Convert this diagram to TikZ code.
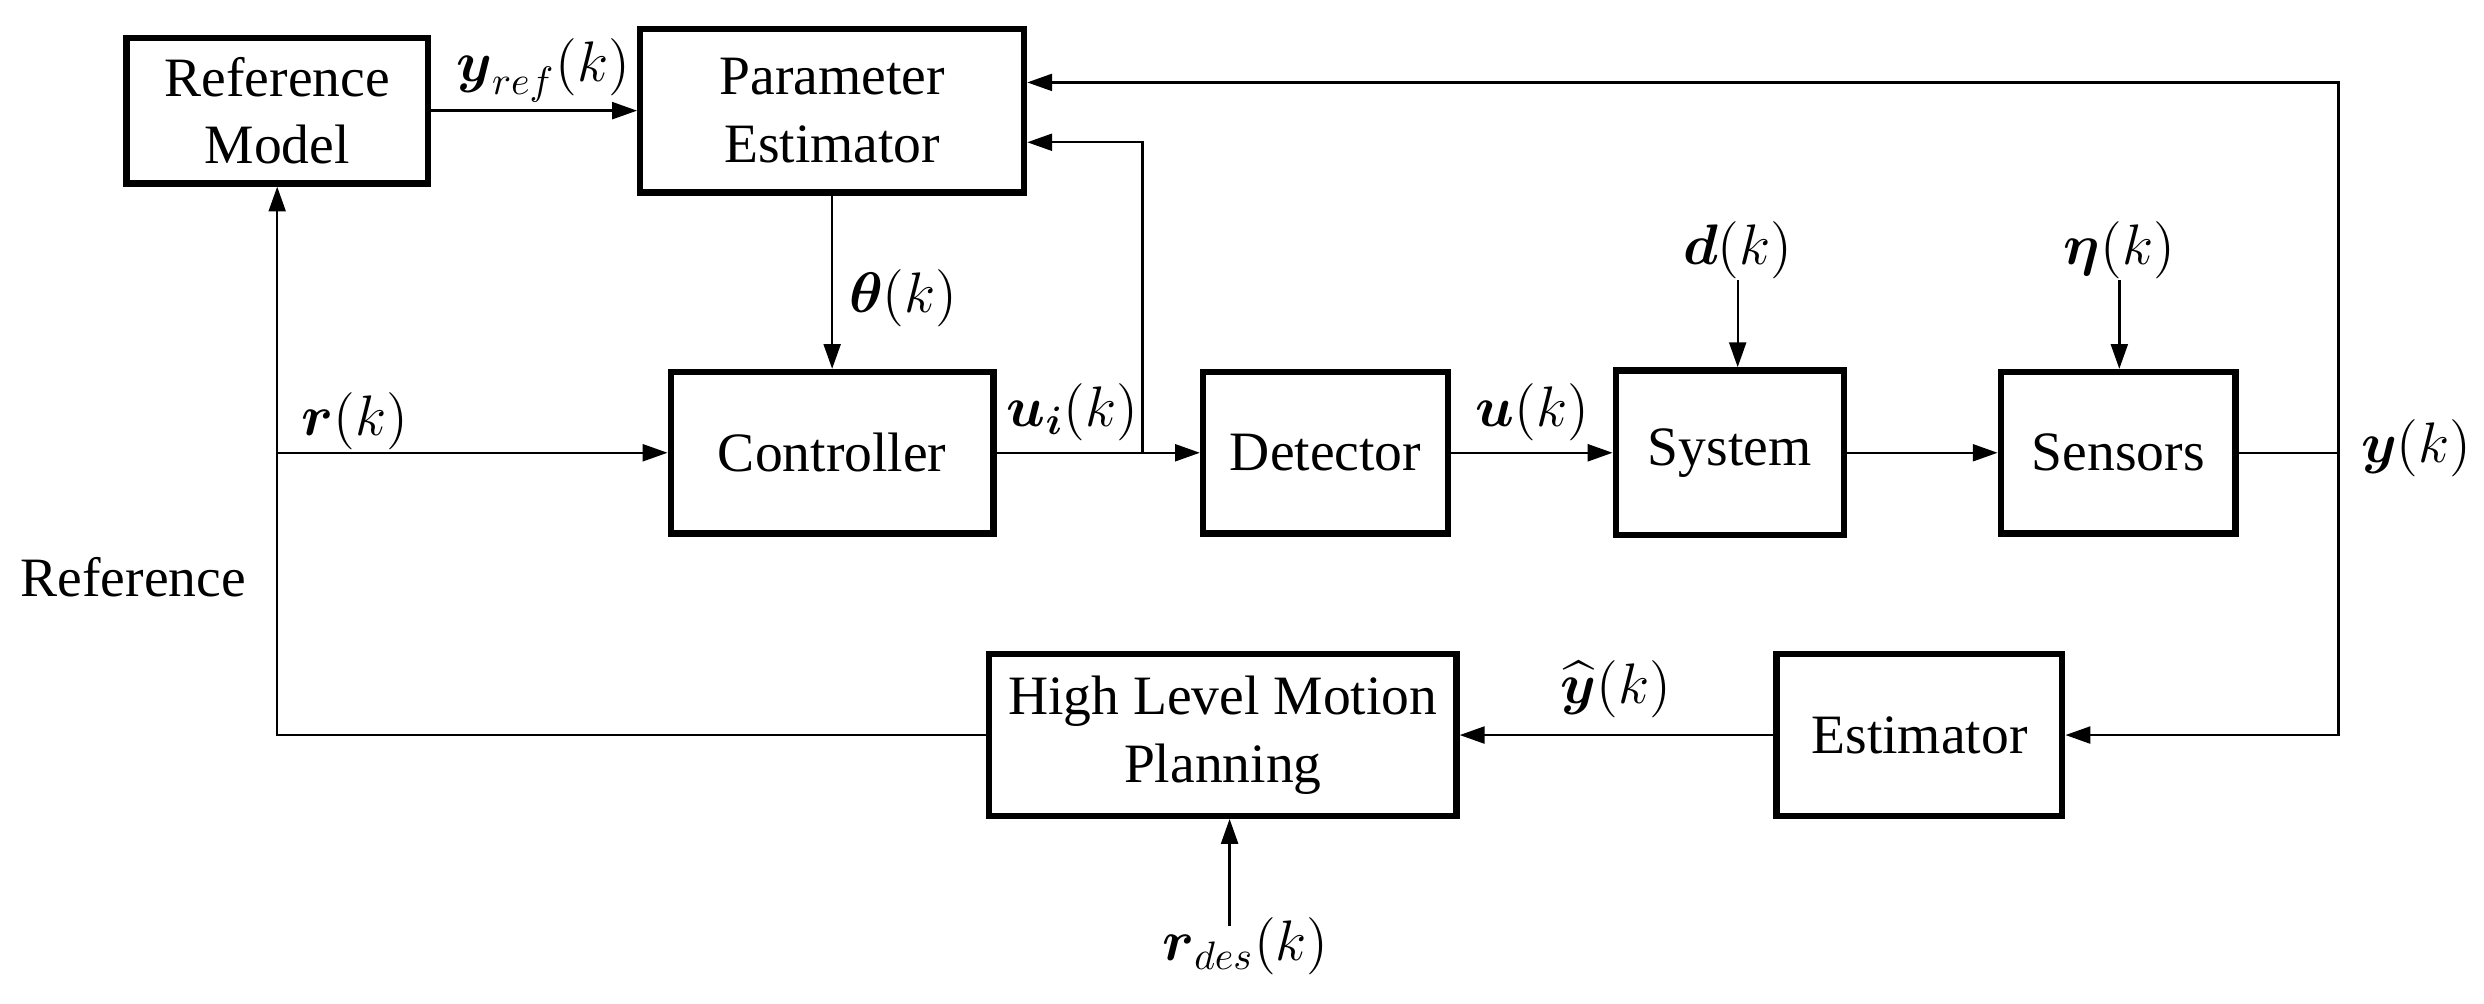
\documentclass[tikz,border=0pt]{standalone}
\usepackage{amsmath, amsfonts, amssymb}
\usepackage{fontspec}
\setmainfont{Liberation Serif}
\usepackage{tikz}
\usetikzlibrary{positioning, arrows.meta}

\begin{document}
\begin{tikzpicture}[
        block/.style={draw, line width=1.6pt, minimum height=1.43cm, align=center, inner sep=0pt, font=\fontsize{14}{17}\selectfont},
        lbl/.style={font=\fontsize{14}{17}\selectfont, inner sep=1pt},
        sig/.style={line width=0.6pt, -{Triangle[length=2.2mm,width=1.5mm]}},
        wire/.style={line width=0.6pt}]
        \useasboundingbox (0,0) rectangle (22,-8.89);

        % blocks
        \node[block, minimum width=2.67cm, minimum height=1.29cm] (refmodel) at (2.455,-0.98) {Reference\\Model};
        \node[block, minimum width=3.40cm, minimum height=1.45cm] (paramest) at (7.37,-0.98) {Parameter\\Estimator};
        \node[block, minimum width=2.86cm] (controller) at (7.37,-4.01) {Controller};
        \node[block, minimum width=2.17cm] (detector) at (11.74,-4.01) {Detector};
        \node[block, minimum width=2.02cm, minimum height=1.46cm] (system) at (15.32,-4.01) {System};
        \node[block, minimum width=2.08cm] (sensors) at (18.76,-4.01) {Sensors};
        \node[block, minimum width=4.14cm] (hlmp) at (10.83,-6.51) {High Level Motion\\Planning};
        \node[block, minimum width=2.53cm] (estimator) at (17.00,-6.51) {Estimator};

        % labels
        \node[lbl] (reflbl) at (1.18,-5.11) {Reference};
        \node[lbl] (rlbl) at (3.14,-3.73) {$\boldsymbol{r}(k)$};
        \node[lbl] (yreflbl) at (4.81,-0.62) {$\boldsymbol{y}_{ref}(k)$};
        \node[lbl] (thetalbl) at (8.00,-2.64) {$\boldsymbol{\theta}(k)$};
        \node[lbl] (uilbl) at (9.50,-3.65) {$\boldsymbol{u_i}(k)$};
        \node[lbl] (ulbl) at (13.57,-3.65) {$\boldsymbol{u}(k)$};
        \node[lbl] (dlbl) at (15.39,-2.22) {$\boldsymbol{d}(k)$};
        \node[lbl] (etalbl) at (18.77,-2.22) {$\boldsymbol{\eta}(k)$};
        \node[lbl] (ylbl) at (21.40,-3.97) {$\boldsymbol{y}(k)$};
        \node[lbl] (yhatlbl) at (14.31,-6.10) {$\widehat{\boldsymbol{y}}(k)$};
        \node[lbl] (rdeslbl) at (11.03,-8.38) {$\boldsymbol{r}_{des}(k)$};

        % junctions
        \coordinate (rj) at (refmodel.south |- controller);
        \coordinate (uj) at (10.12,-4.01);
        \coordinate (ujtop) at (10.12,-1.26);
        \coordinate (yj) at (20.71,-4.01);
        \coordinate (fbtop) at (20.71,-0.73);
        \coordinate (dtop) at (15.39,-2.48);
        \coordinate (etatop) at (18.77,-2.48);
        \coordinate (rdestop) at (10.89,-8.2);

        % signals
        \draw[sig] (refmodel) -- (paramest);
        \draw[sig] (paramest) -- (controller);
        \draw[sig] (controller) -- (detector);
        \draw[sig] (detector) -- (system);
        \draw[sig] (system) -- (sensors);
        \draw[sig] (dtop) -- (dtop |- system.north);
        \draw[sig] (etatop) -- (etatop |- sensors.north);
        \draw[wire] (sensors) -- (yj);
        \draw[sig] (yj) -- (fbtop) -- (fbtop -| paramest.east);
        \draw[sig] (uj) -- (ujtop) -- (ujtop -| paramest.east);
        \draw[sig] (yj) |- (estimator.east);
        \draw[sig] (estimator) -- (hlmp);
        \draw[sig] (rdestop) -- (rdestop |- hlmp.south);
        \draw[sig] (hlmp.west) -| (refmodel.south);
        \draw[sig] (rj) -- (controller.west);
\end{tikzpicture}
\end{document}
